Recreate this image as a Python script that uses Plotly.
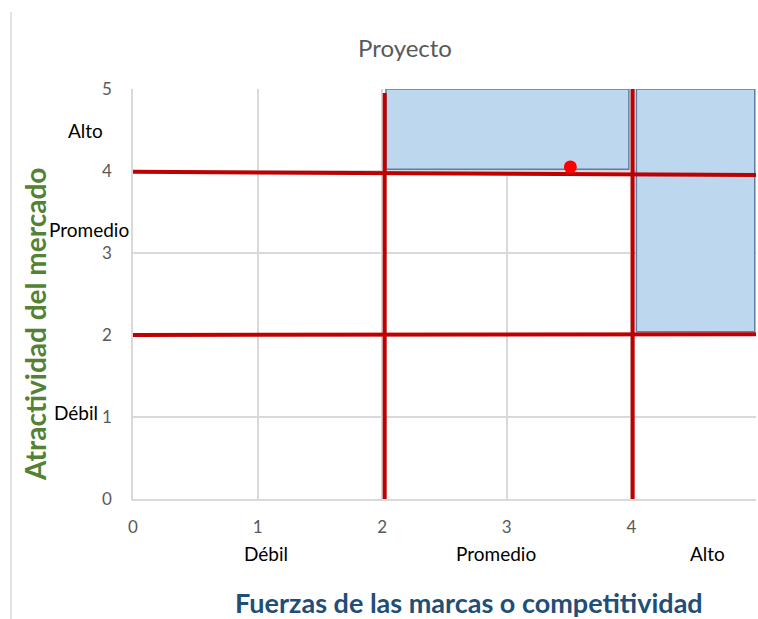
import plotly.graph_objects as go

# Data
title_text = "Proyecto"
x_title = "Fuerzas de las marcas o competitividad"
y_title = "Atractividad del mercado"
tick_vals = [0, 1, 2, 3, 4, 5]

# Red divider lines (x pairs, y pairs)
h_lines_x = [[0, 5], [0, 5]]
h_lines_y = [[3.99, 3.95], [2.0, 2.01]]
v_lines_x = [[2.02, 2.02], [4.01, 4.01]]
v_lines_y = [[0, 4.95], [0, 5]]

# Highlighted zones: (x0, x1, y0, y1)
zones_x0 = [2.03, 4.04]
zones_x1 = [3.98, 4.99]
zones_y0 = [4.02, 2.04]
zones_y1 = [5.0, 5.0]

# Project point
point_x = [3.51]
point_y = [4.05]

# Category labels
x_cat_labels = ["Débil", "Promedio", "Alto"]
x_cat_pos = [1.07, 2.91, 4.61]
y_cat_labels = ["Alto", "Promedio", "Débil"]
y_cat_pos = [4.5, 3.29, 1.05]

FONT = "Lato"
W, H = 758, 619
L, R, T, B = 133, 2, 89, 120
PW, PH = W - L - R, H - T - B

def px_x(p):
    return (p - L) / PW

def px_y(p):
    return (H - B - p) / PH

fig = go.Figure()

for x0, x1, y0, y1 in zip(zones_x0, zones_x1, zones_y0, zones_y1):
    fig.add_trace(go.Scatter(
        x=[x0, x1, x1, x0, x0], y=[y0, y0, y1, y1, y0],
        mode="lines", fill="toself", fillcolor="#BDD7EE",
        line=dict(color="#5B7FA6", width=1.5), hoverinfo="skip", showlegend=False))

for xs, ys in zip(h_lines_x, h_lines_y):
    fig.add_trace(go.Scatter(x=xs, y=ys, mode="lines",
                             line=dict(color="#C00000", width=4), showlegend=False))
for xs, ys in zip(v_lines_x, v_lines_y):
    fig.add_trace(go.Scatter(x=xs, y=ys, mode="lines",
                             line=dict(color="#C00000", width=4), showlegend=False))

fig.add_trace(go.Scatter(x=point_x, y=point_y, mode="markers",
                         marker=dict(color="#FF0000", size=13), showlegend=False))

annotations = []
for t, p in zip(x_cat_labels, x_cat_pos):
    annotations.append(dict(x=p, y=px_y(553), xref="x", yref="paper", text=t, showarrow=False,
                            xanchor="center", yanchor="middle",
                            font=dict(family=FONT, size=19, color="#000000")))
y_lab_px = [85, 89, 76]
for t, p, xp in zip(y_cat_labels, y_cat_pos, y_lab_px):
    annotations.append(dict(x=px_x(xp), y=p, xref="paper", yref="y", text=t, showarrow=False,
                            xanchor="center", yanchor="middle",
                            font=dict(family=FONT, size=19, color="#000000")))
annotations.append(dict(x=px_x(469), y=px_y(602), xref="paper", yref="paper",
                        text="<b>" + x_title + "</b>", showarrow=False,
                        xanchor="center", yanchor="middle",
                        font=dict(family=FONT, size=27, color="#1F4E79")))
annotations.append(dict(x=px_x(35), y=px_y(325), xref="paper", yref="paper",
                        text="<b>" + y_title + "</b>", showarrow=False, textangle=-90,
                        xanchor="center", yanchor="middle",
                        font=dict(family=FONT, size=28, color="#548235")))

fig.update_layout(
    width=W, height=H,
    margin=dict(l=L, r=R, t=T, b=B),
    paper_bgcolor="white", plot_bgcolor="white",
    title=dict(text=title_text, x=(405 / W), xanchor="center", y=1 - 49 / H, yanchor="middle",
               font=dict(family=FONT, size=24, color="#595959")),
    xaxis=dict(range=[0, 5], tickvals=tick_vals, showgrid=True, gridcolor="#D9D9D9", gridwidth=1.5,
               zeroline=False, showline=True, linecolor="#D9D9D9", linewidth=1.5,
               ticks="", tickfont=dict(family=FONT, size=17, color="#595959"), ticklabelstandoff=12,
               automargin=False),
    yaxis=dict(range=[0, 5], tickvals=tick_vals, showgrid=True, gridcolor="#D9D9D9", gridwidth=1.5,
               zeroline=False, showline=True, linecolor="#D9D9D9", linewidth=1.5,
               ticks="", tickfont=dict(family=FONT, size=17, color="#595959"), ticklabelstandoff=16,
               automargin=False),
    annotations=annotations,
    shapes=[dict(type="line", xref="paper", yref="paper", x0=px_x(11), x1=px_x(11),
                 y0=px_y(619), y1=px_y(12), line=dict(color="#D9D9D9", width=1.5))],
)

fig.write_html("out.html")
